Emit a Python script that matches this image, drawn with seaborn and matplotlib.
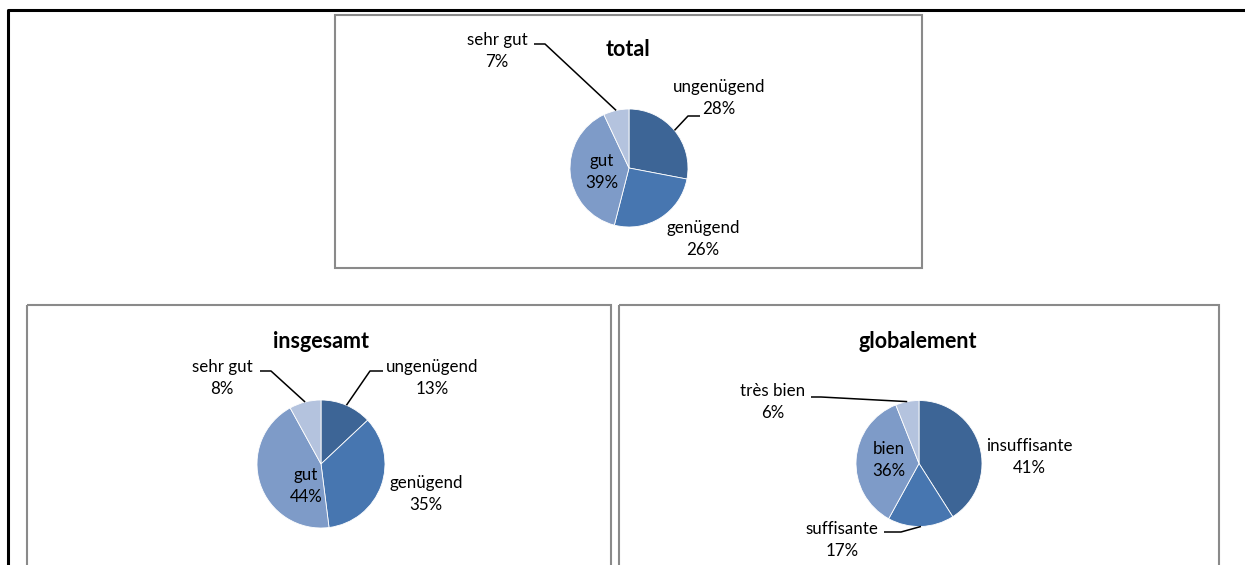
import matplotlib
matplotlib.use("Agg")
import matplotlib.pyplot as plt
import matplotlib.patches as mpatches
import numpy as np
import seaborn as sns

# ──────────────────────────────────────────────────────────────
# Data
# ──────────────────────────────────────────────────────────────

TITLES = ["total", "insgesamt", "globalement"]

CATS_TOTAL = ["ungenügend", "genügend", "gut", "sehr gut"]
VALS_TOTAL = [28, 26, 39, 7]

CATS_DE = ["ungenügend", "genügend", "gut", "sehr gut"]
VALS_DE = [13, 35, 44, 8]

CATS_FR = ["insuffisante", "suffisante", "bien", "très bien"]
VALS_FR = [41, 17, 36, 6]

# ──────────────────────────────────────────────────────────────
# Layout (image pixels, y pointing down) and styles
# ──────────────────────────────────────────────────────────────

W, H = 1245, 565
DPI = 100
FONT = ["Lato", "DejaVu Sans"]
LABEL_PT = 12.2
TITLE_PT = 15.5
LINE_GAP = 22
PIE_COLOURS = ["#3D6596", "#4776B0", "#7E9BC8", "#B4C3DE"]
BOX_COLOUR = "#8A8A8A"

# per chart: box, pie centre + radius, title position,
# label positions (first line centre) and leader elbows (None = no leader)
LAYOUT = [
    dict(box=(335, 15, 922, 268), centre=(629, 168), r=59, title=(628, 49),
         labels=[(719, 87), (703, 228), (602, 161), (497, 40)],
         elbows=[[(700, 116), (688, 116)], None, None, [(534, 44), (545, 44)]]),
    dict(box=(27, 305, 611, 600), centre=(321, 464), r=64, title=(321, 341),
         labels=[(432, 367), (426, 483), (306, 475), (222, 367)],
         elbows=[[(383, 371), (370, 371)], None, None, [(260, 371), (271, 371)]]),
    dict(box=(619, 305, 1219, 600), centre=(919, 463.5), r=63, title=(918, 342),
         labels=[(1029, 446), (842, 529), (889, 449), (773, 391)],
         elbows=[None, [(884, 532), (901, 532)], None, [(811, 397), (821, 397)]]),
]

sns.set_theme(style="white")
plt.rcParams["font.family"] = FONT

fig = plt.figure(figsize=(W / DPI, H / DPI), dpi=DPI)
ax = fig.add_axes([0, 0, 1, 1])
ax.set_axis_off()

palette = sns.color_palette(PIE_COLOURS)
charts = [(CATS_TOTAL, VALS_TOTAL), (CATS_DE, VALS_DE), (CATS_FR, VALS_FR)]

for title, (cats, vals), lay in zip(TITLES, charts, LAYOUT):
    x0, y0, x1, y1 = lay["box"]
    ax.add_patch(mpatches.Rectangle((x0, y0), x1 - x0, y1 - y0, fill=False,
                                    ec=BOX_COLOUR, lw=1.5, zorder=1))
    cx, cy = lay["centre"]
    # y axis is inverted, so counterclock + start at -90 runs clockwise from 12 o'clock
    wedges, _ = ax.pie(vals, colors=palette, center=(cx, cy), radius=lay["r"],
                       startangle=-90, counterclock=True, frame=True,
                       wedgeprops=dict(edgecolor="white", linewidth=0.6))
    ax.text(*lay["title"], title, ha="center", va="center",
            fontsize=TITLE_PT, fontweight="bold", color="black")

    for cat, val, wedge, (lx, ly), elbow in zip(cats, vals, wedges,
                                                lay["labels"], lay["elbows"]):
        ax.text(lx, ly, cat, ha="center", va="center", fontsize=LABEL_PT, color="black")
        ax.text(lx, ly + LINE_GAP, f"{val}%", ha="center", va="center",
                fontsize=LABEL_PT, color="black")
        if elbow is not None:
            # leader ends on the rim at the wedge's mid angle
            mid = np.deg2rad((wedge.theta1 + wedge.theta2) / 2)
            px = cx + lay["r"] * np.cos(mid)
            py = cy + lay["r"] * np.sin(mid)
            xs = [elbow[0][0], elbow[1][0], px]
            ys = [elbow[0][1], elbow[1][1], py]
            ax.plot(xs, ys, color="black", lw=1.1, solid_capstyle="butt", zorder=3)

# page frame: top and left edges
ax.plot([8, 8, W], [H + 5, 10, 10], color="black", lw=2.2, solid_capstyle="butt")

ax.set_aspect("auto")
ax.set_xlim(0, W)
ax.set_ylim(H, 0)

fig.savefig("out.png", dpi=DPI, facecolor="white")
